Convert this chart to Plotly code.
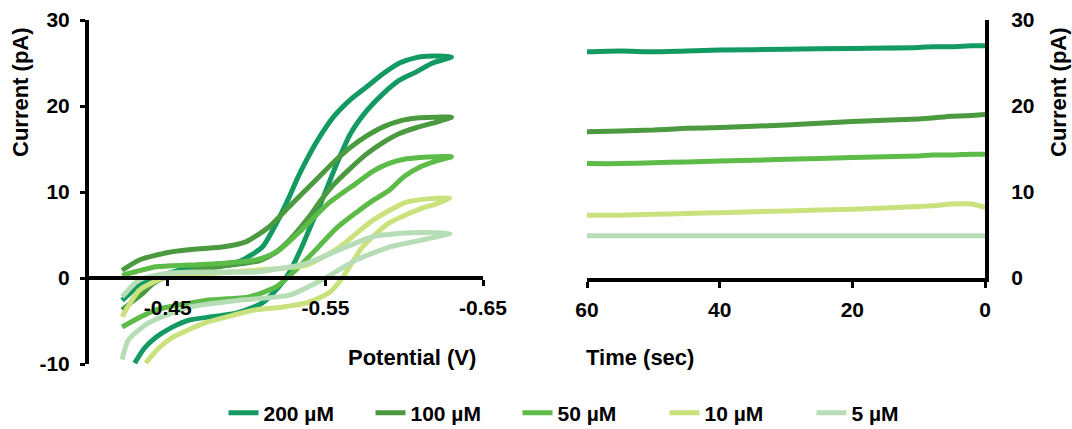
import plotly.graph_objects as go

# ---------------- data ----------------
series_names = ["200 µM", "100 µM", "50 µM", "10 µM", "5 µM"]
series_colors = ["#129a62", "#4b9a40", "#5dbb48", "#c9e27e", "#b6ddb6"]

# Cyclic voltammograms (potential V, current pA)
cv_v_200 = [-0.421, -0.431, -0.4425, -0.4635, -0.480, -0.495, -0.510, -0.519, -0.527, -0.532, -0.538,
            -0.545, -0.555, -0.565, -0.576, -0.587, -0.597, -0.607, -0.618, -0.630,
            -0.618, -0.608, -0.597, -0.587, -0.576, -0.566, -0.557, -0.548, -0.541, -0.535, -0.527,
            -0.5206, -0.510, -0.4935, -0.478, -0.4635, -0.452, -0.4425, -0.435, -0.429]
cv_i_200 = [-2.6, -1.0, 0.1, 1.2, 1.6, 1.9, 3.6, 6.4, 9.4, 11.5, 13.7,
            16.0, 18.7, 20.6, 22.2, 23.8, 25.0, 25.6, 25.8, 25.7,
            25.0, 24.0, 23.0, 21.5, 19.4, 16.8, 13.2, 9.1, 6.2, 3.6, 0.6,
            -1.0, -2.9, -4.1, -4.5, -4.9, -5.8, -6.9, -8.2, -9.9]

cv_v_100 = [-0.421, -0.432, -0.451, -0.470, -0.4845, -0.4995, -0.514, -0.527, -0.544, -0.556, -0.566,
            -0.577, -0.587, -0.598, -0.608, -0.618, -0.630,
            -0.618, -0.608, -0.597, -0.587, -0.576, -0.565, -0.555, -0.547, -0.540, -0.532, -0.525,
            -0.517, -0.508, -0.490, -0.470, -0.450, -0.441, -0.434, -0.427, -0.421]
cv_i_100 = [0.9, 2.1, 3.0, 3.4, 3.6, 4.2, 5.9, 8.3, 11.4, 13.6, 15.2,
            16.6, 17.6, 18.3, 18.6, 18.7, 18.7,
            18.0, 17.5, 16.8, 15.8, 14.4, 12.6, 10.8, 9.0, 7.2, 5.4, 4.0,
            2.8, 2.0, 1.5, 1.0, 0.2, -0.6, -1.8, -2.8, -3.7]

cv_v_50 = [-0.421, -0.4425, -0.463, -0.4845, -0.506, -0.519, -0.535, -0.552, -0.5695,
           -0.580, -0.590, -0.600, -0.610, -0.620, -0.630,
           -0.620, -0.610, -0.600, -0.5905, -0.580, -0.5695, -0.557, -0.544, -0.531, -0.519,
           -0.5015, -0.474, -0.4425, -0.432, -0.421]
cv_i_50 = [0.3, 1.3, 1.5, 1.7, 2.1, 3.0, 5.6, 8.7, 11.0,
           12.4, 13.3, 13.8, 14.0, 14.1, 14.1,
           13.6, 12.9, 11.8, 10.2, 9.0, 7.6, 5.8, 3.3, 0.9, -1.0,
           -2.2, -2.6, -3.7, -4.6, -5.7]

cv_v_10 = [-0.421, -0.432, -0.449, -0.475, -0.506, -0.538, -0.559, -0.580, -0.601, -0.615, -0.629,
           -0.620, -0.611, -0.5905, -0.5735, -0.561, -0.5525, -0.538, -0.522, -0.506,
           -0.490, -0.474, -0.453, -0.444, -0.436]
cv_i_10 = [-4.5, -1.4, 0.1, 0.5, 0.9, 1.5, 3.6, 6.7, 8.8, 9.2, 9.3,
           8.6, 8.1, 6.4, 3.6, 0.1, -1.7, -2.9, -3.4, -3.7,
           -4.4, -5.2, -6.9, -8.2, -9.9]

cv_v_5 = [-0.421, -0.432, -0.453, -0.480, -0.506, -0.538, -0.559, -0.580, -0.598, -0.611, -0.629,
          -0.611, -0.5905, -0.5695, -0.548, -0.527, -0.495, -0.4635, -0.438, -0.425, -0.421]
cv_i_5 = [-2.2, -0.2, 0.6, 0.7, 0.7, 1.7, 3.3, 4.8, 5.2, 5.3, 5.2,
          4.4, 3.6, 2.1, -0.2, -2.0, -2.6, -3.4, -5.2, -7.2, -9.5]

cv_v = [cv_v_200, cv_v_100, cv_v_50, cv_v_10, cv_v_5]
cv_i = [cv_i_200, cv_i_100, cv_i_50, cv_i_10, cv_i_5]

# Amperometric traces (time s, current pA)
time_s = [60, 55, 50, 45, 40, 30, 20, 10, 8, 5, 2, 0]
amp_200 = [26.3, 26.4, 26.3, 26.4, 26.5, 26.6, 26.7, 26.8, 26.9, 26.9, 27.0, 27.0]
amp_100 = [17.0, 17.1, 17.2, 17.4, 17.5, 17.8, 18.2, 18.5, 18.6, 18.8, 18.9, 19.0]
amp_50 = [13.3, 13.3, 13.4, 13.5, 13.6, 13.8, 14.0, 14.2, 14.3, 14.3, 14.4, 14.4]
amp_10 = [7.3, 7.3, 7.4, 7.5, 7.6, 7.8, 8.0, 8.3, 8.4, 8.6, 8.6, 8.2]
amp_5 = [4.9, 4.9, 4.9, 4.9, 4.9, 4.9, 4.9, 4.9, 4.9, 4.9, 4.9, 4.9]
amp = [amp_200, amp_100, amp_50, amp_10, amp_5]

cv_ticks = [-0.45, -0.55, -0.65]
cv_tick_text = ["-0.45", "-0.55", "-0.65"]
time_ticks = [60, 40, 20, 0]
time_tick_text = ["60", "40", "20", "0"]
cur_ticks_left = [-10, 0, 10, 20, 30]
cur_tick_text_left = ["-10", "0", "10", "20", "30"]
cur_ticks_right = [0, 10, 20, 30]
cur_tick_text_right = ["0", "10", "20", "30"]

# ---------------- figure ----------------
FONT = "Liberation Sans, Arial, sans-serif"
fig = go.Figure()

for k in range(len(series_names)):
    fig.add_trace(go.Scatter(
        x=cv_v[k], y=cv_i[k], mode="lines", name=series_names[k],
        line=dict(color=series_colors[k], width=5, shape="spline", smoothing=0.6),
        xaxis="x", yaxis="y", showlegend=True, legendgroup=series_names[k]))
for k in range(len(series_names)):
    fig.add_trace(go.Scatter(
        x=time_s, y=amp[k], mode="lines", name=series_names[k],
        line=dict(color=series_colors[k], width=5, shape="spline", smoothing=0.6),
        xaxis="x2", yaxis="y2", showlegend=False, legendgroup=series_names[k]))

L, R, T, B = 89, 87, 20, 65
W, H = 1072, 429
pw = W - L - R
ph = H - T - B

def px_x(p):
    return (p - L) / pw

def px_y(p):
    return (H - B - p) / ph

tickfont = dict(family=FONT, size=21, color="black", weight="bold")
axis_common = dict(showline=True, linecolor="black", linewidth=4, showgrid=False,
                   zeroline=False, tickfont=tickfont, tickcolor="black", automargin=False)

fig.update_layout(
    width=W, height=H,
    margin=dict(l=L, r=R, t=T, b=B, autoexpand=False),
    paper_bgcolor="white", plot_bgcolor="white",
    font=dict(family=FONT, color="black"),
    xaxis=dict(domain=[0, px_x(483)], range=[-0.40, -0.65], tickvals=cv_ticks, ticktext=cv_tick_text,
               anchor="free", position=0.25, ticks="outside", ticklen=6, tickwidth=3,
               ticklabelstandoff=4, **axis_common),
    yaxis=dict(domain=[0, 1], range=[-10, 30], tickvals=cur_ticks_left, ticktext=cur_tick_text_left,
               anchor="x", ticks="outside", ticklen=5, tickwidth=3, ticklabelstandoff=6, **axis_common),
    xaxis2=dict(domain=[px_x(587), 1], range=[60, 0], tickvals=time_ticks, ticktext=time_tick_text,
                anchor="y2", ticks="outside", ticklen=6, tickwidth=3, ticklabelstandoff=4, **axis_common),
    yaxis2=dict(domain=[0.25, 1], range=[0, 30], tickvals=cur_ticks_right, ticktext=cur_tick_text_right,
                anchor="x2", side="right", ticks="", ticklabelstandoff=18, **axis_common),
    legend=dict(orientation="h", xref="container", yref="container", x=591 / W, xanchor="center",
                y=(H - 413) / H, yanchor="middle",
                font=dict(family=FONT, size=21, color="black", weight="bold"),
                entrywidth=102, itemwidth=30, bgcolor="rgba(0,0,0,0)"),
    showlegend=True,
)

title_font = dict(family=FONT, size=22, color="black", weight="bold")
fig.add_annotation(text="Potential (V)", xref="paper", yref="paper", x=px_x(412), y=px_y(357),
                   showarrow=False, font=title_font, xanchor="center", yanchor="middle")
fig.add_annotation(text="Time (sec)", xref="paper", yref="paper", x=px_x(640), y=px_y(357),
                   showarrow=False, font=title_font, xanchor="center", yanchor="middle")
fig.add_annotation(text="Current (pA)", xref="paper", yref="paper", x=px_x(20), y=px_y(92),
                   showarrow=False, font=title_font, textangle=-90, xanchor="center", yanchor="middle")
fig.add_annotation(text="Current (pA)", xref="paper", yref="paper", x=px_x(1058), y=px_y(92),
                   showarrow=False, font=title_font, textangle=-90, xanchor="center", yanchor="middle")

fig.write_html("out.html", config={"displayModeBar": False},
               post_script="document.body.style.margin='0';document.body.style.overflow='hidden';")
